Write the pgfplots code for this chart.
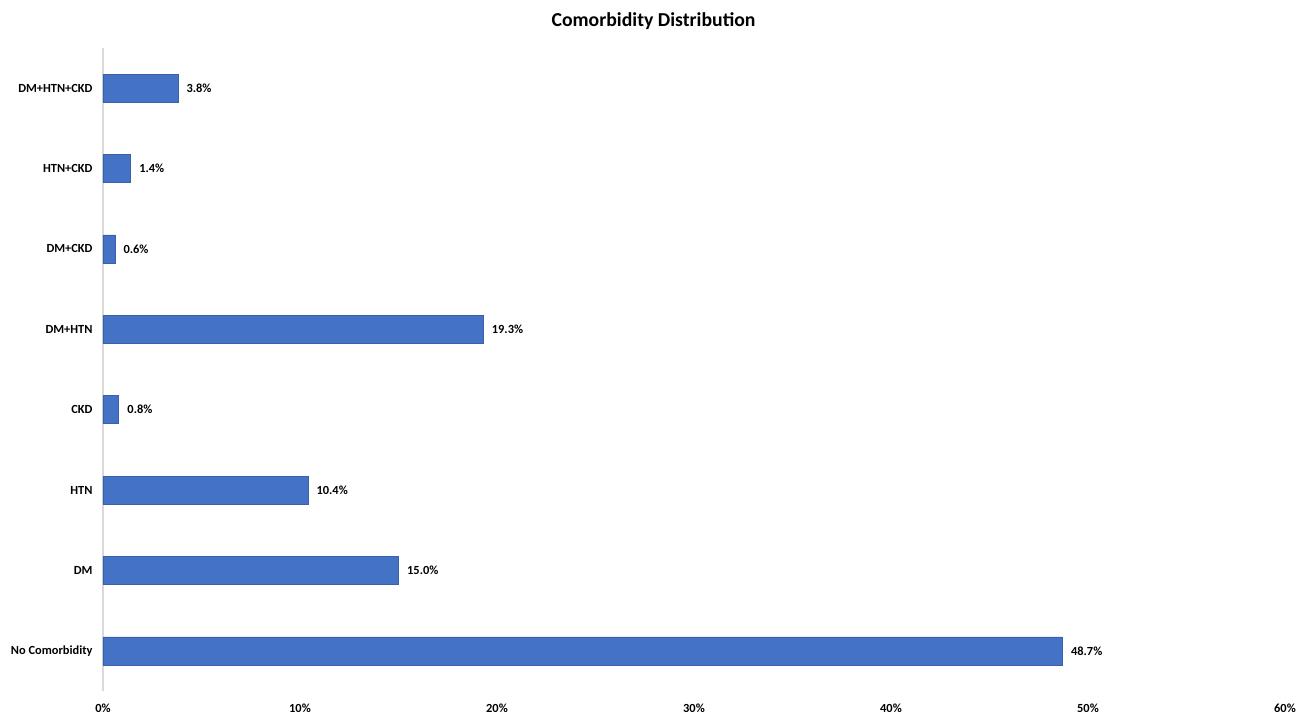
\documentclass[border=0pt]{standalone}
\usepackage{fontspec}
\setmainfont{Carlito}
\usepackage{pgfplots}
\pgfplotsset{compat=1.18}
\definecolor{barblue}{HTML}{4472C4}
\begin{document}
\begin{tikzpicture}
\begin{axis}[
  at={(0,0)}, anchor=south west,
  scale only axis,
  width=886.5pt, height=482.25pt,
  xbar, bar width=21pt,
  xmin=0, xmax=60,
  ymin=-0.5, ymax=7.5,
  xtick={0,10,...,60},
  xticklabels={0\%,10\%,20\%,30\%,40\%,50\%,60\%},
  ytick={0,...,7},
  yticklabels={No Comorbidity,DM,HTN,CKD,DM+HTN,DM+CKD,HTN+CKD,DM+HTN+CKD},
  tick style={draw=none},
  major tick length=0pt,
  ticklabel style={font=\bfseries\fontsize{9.3}{11}\selectfont},
  /pgf/number format/assume math mode=true,
  xticklabel style={yshift=-6pt},
  yticklabel style={xshift=-4.3pt},
  axis lines=left,
  axis line style={-},
  x axis line style={draw=none},
  y axis line style={draw=black!15, line width=0.8pt},
  nodes near coords={\pgfmathprintnumber[fixed,fixed zerofill,precision=1]{\pgfplotspointmeta}\%},
  nodes near coords style={font=\bfseries\fontsize{9.3}{11}\selectfont, xshift=3pt, text=black},
  point meta=x,
]
\addplot[fill=barblue, draw=barblue!85!black, line width=0.4pt] coordinates {
  (48.7,0) (15.0,1) (10.4,2) (0.8,3) (19.3,4) (0.6,5) (1.4,6) (3.8,7)
};
\end{axis}
\node[font=\bfseries\fontsize{14.8}{17}\selectfont] at (412.9pt,502.5pt) {Comorbidity Distribution};
\pgfresetboundingbox
\useasboundingbox (-77.25pt,-17.25pt) rectangle (903pt,518.25pt);
\end{tikzpicture}
\end{document}
